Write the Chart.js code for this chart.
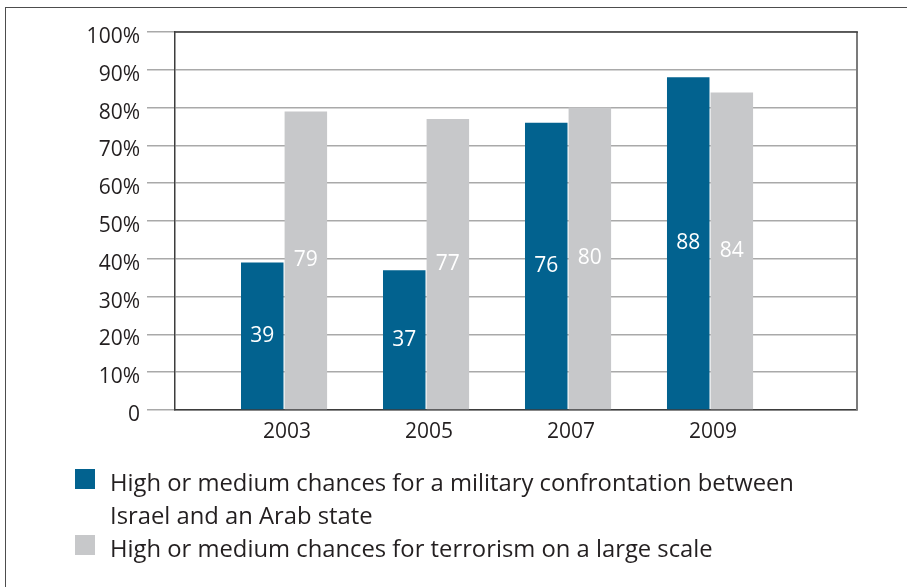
<!DOCTYPE html>
<html>
<head>
<meta charset="utf-8">
<title>Chances of confrontation and terrorism</title>
<script src="https://cdn.jsdelivr.net/npm/chart.js@4/dist/chart.umd.min.js"></script>
<style>
  html, body { margin: 0; padding: 0; background: #fff; }
  body { width: 907px; height: 587px; position: relative; overflow: hidden; font-family: "Open Sans", sans-serif; }
  #frame {
    position: absolute; left: 5px; top: 7px; right: -2px; bottom: -2px;
    border-top: 1.5px solid #4d4d4d; border-left: 1.5px solid #4d4d4d;
  }
  #chart-wrap { position: absolute; left: 0; top: 0; width: 907px; height: 587px; }
  #legend { position: absolute; left: 75px; top: 466px; color: #231f20; font-size: 23.8px; line-height: 33px; }
  .item { display: flex; align-items: flex-start; }
  .swatch { width: 20px; height: 20px; margin-top: 3px; margin-right: 15px; flex: none; }
  .item span { max-width: 720px; }
</style>
</head>
<body>
<div id="frame"></div>
<div id="chart-wrap"><canvas id="chart" width="907" height="587"></canvas></div>
<div id="legend"></div>
<script>
// Survey years and percentages
const years = ['2003', '2005', '2007', '2009'];
const confrontation = [39, 37, 76, 88];
const terrorism = [79, 77, 80, 84];
const seriesNames = [
  'High or medium chances for a military confrontation between Israel and an Arab state',
  'High or medium chances for terrorism on a large scale'
];
const yTicks = [0, 10, 20, 30, 40, 50, 60, 70, 80, 90, 100];

const BLUE = '#02628f';
const GREY = '#c7c8ca';

// white value labels centred inside each bar
const barValues = {
  id: 'barValues',
  afterDatasetsDraw(chart) {
    const ctx = chart.ctx;
    ctx.save();
    ctx.font = '21px "Open Sans", sans-serif';
    ctx.fillStyle = '#ffffff';
    ctx.textAlign = 'center';
    ctx.textBaseline = 'middle';
    chart.data.datasets.forEach((ds, di) => {
      chart.getDatasetMeta(di).data.forEach((bar, i) => {
        ctx.fillText(String(ds.data[i].y), bar.x, (bar.y + bar.base) / 2);
      });
    });
    ctx.restore();
  }
};

// top and right edges of the plot box
const plotBox = {
  id: 'plotBox',
  afterDraw(chart) {
    const { ctx, chartArea: a } = chart;
    ctx.save();
    ctx.lineWidth = 2;
    ctx.strokeStyle = '#7b7b7b';
    ctx.beginPath();
    ctx.moveTo(a.right, a.top);
    ctx.lineTo(a.right, a.bottom);
    ctx.stroke();
    ctx.lineWidth = 1.5;
    ctx.strokeStyle = '#3d3d3d';
    ctx.beginPath();
    ctx.moveTo(a.left, a.top);
    ctx.lineTo(a.right + 1, a.top);
    ctx.stroke();
    ctx.restore();
  }
};

const tickFont = { family: '"Open Sans", sans-serif', size: 21 };

const chart = new Chart(document.getElementById('chart'), {
  type: 'bar',
  data: {
    datasets: [
      { label: seriesNames[0], data: confrontation.map((v, i) => ({ x: i, y: v })), backgroundColor: BLUE },
      { label: seriesNames[1], data: terrorism.map((v, i) => ({ x: i, y: v })), backgroundColor: GREY }
    ]
  },
  options: {
    responsive: false,
    animation: false,
    categoryPercentage: 0.614,
    barPercentage: 0.975,
    layout: { padding: { left: 0, top: 32, right: 50, bottom: 0 } },
    plugins: { legend: { display: false }, tooltip: { enabled: false } },
    scales: {
      x: {
        type: 'linear',
        offset: false,
        min: -0.768,
        max: 4.035,
        afterFit(scale) { scale.height = 177; },
        afterBuildTicks(scale) { scale.ticks = years.map((y, i) => ({ value: i })); },
        grid: { display: false, drawTicks: false },
        border: { display: true, color: '#3d3d3d', width: 1.5 },
        ticks: {
          padding: 9,
          labelOffset: 3,
          color: '#231f20',
          font: tickFont,
          callback: v => years[v]
        }
      },
      y: {
        min: 0,
        max: 100,
        afterFit(scale) { scale.width = 175; },
        afterBuildTicks(scale) { scale.ticks = yTicks.map(v => ({ value: v })); },
        grid: { color: '#a9a9a9', lineWidth: 1.5, tickLength: 28, tickColor: '#a9a9a9' },
        border: { display: true, color: '#3d3d3d', width: 1.5 },
        ticks: {
          padding: 7,
          labelOffset: 5,
          color: '#231f20',
          font: tickFont,
          callback: v => v === 0 ? '0' : v + '%'
        }
      }
    }
  },
  plugins: [barValues, plotBox]
});

// legend built from the chart's datasets
const legendEl = document.getElementById('legend');
chart.data.datasets.forEach(ds => {
  const item = document.createElement('div');
  item.className = 'item';
  const sw = document.createElement('div');
  sw.className = 'swatch';
  sw.style.background = ds.backgroundColor;
  const label = document.createElement('span');
  label.textContent = ds.label;
  item.appendChild(sw);
  item.appendChild(label);
  legendEl.appendChild(item);
});
</script>
</body>
</html>
